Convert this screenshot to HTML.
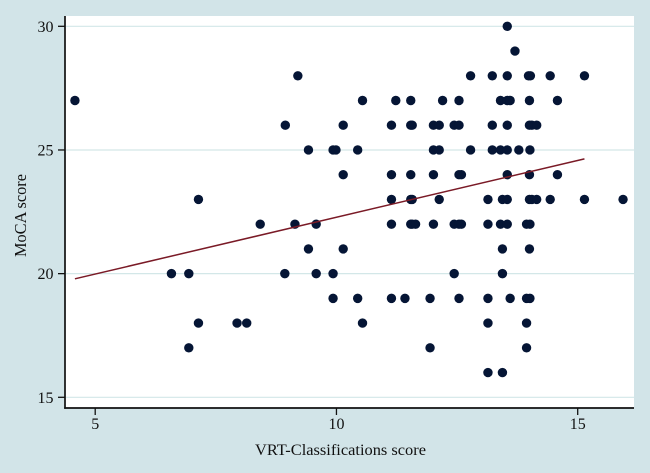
<!DOCTYPE html>
<html>
<head>
<meta charset="utf-8">
<style>
html,body{margin:0;padding:0;width:650px;height:473px;overflow:hidden;background:#d2e4e8;}
svg{display:block;}
text{font-family:"Liberation Serif",serif;fill:#111;}
</style>
</head>
<body>
<svg id="chart" width="650" height="473" viewBox="0 0 650 473" xmlns="http://www.w3.org/2000/svg">
  <rect x="0" y="0" width="650" height="473" fill="#d2e4e8"/>
  <rect x="65" y="16" width="569" height="392" fill="#ffffff"/>
  <g id="grid"></g>
  <g id="points"></g>
  <g id="fit"></g>
  <g id="axes"></g>
  <text x="340.5" y="455" font-size="16" text-anchor="middle" textLength="171" lengthAdjust="spacingAndGlyphs">VRT-Classifications score</text>
  <text x="0" y="0" font-size="16.5" text-anchor="middle" transform="translate(26,215.5) rotate(-90)" textLength="83" lengthAdjust="spacingAndGlyphs">MoCA score</text>
</svg>
<script>
const xTicks = [5, 10, 15];
const yTicks = [15, 20, 25, 30];
const vrtScores = [
  13.54,
  13.7,
  9.2, 12.78, 13.23, 13.54, 13.98, 14.02, 14.43, 15.14,
  4.58, 10.54, 11.23, 11.54, 12.2, 12.54, 13.4, 13.54, 13.6, 14, 14.58,
  8.94, 10.14, 11.14, 11.54, 11.57, 12.01, 12.13, 12.44, 12.54, 13.23, 13.54, 14, 14.05, 14.15,
  9.42, 9.93, 9.99, 10.44, 12.01, 12.13, 12.78, 13.23, 13.4, 13.54, 13.78, 14.01,
  10.14, 11.14, 11.54, 12.01, 12.54, 12.59, 13.54, 14, 14.58,
  7.14, 11.14, 11.54, 11.57, 12.13, 13.14, 13.44, 13.54, 14, 14.05, 14.15, 14.43, 15.14, 15.94,
  8.42, 9.14, 9.58, 11.14, 11.54, 11.57, 11.64, 12.01, 12.44, 12.54, 12.59, 13.14, 13.4, 13.54, 13.94, 14.01,
  9.42, 10.14, 13.44, 14,
  6.58, 6.94, 8.93, 9.58, 9.93, 12.44, 13.44,
  9.93, 10.44, 11.14, 11.42, 11.94, 12.54, 13.14, 13.6, 13.94, 14.01,
  7.14, 7.94, 8.14, 10.54, 13.14, 13.94,
  6.94, 11.94, 13.94,
  13.14, 13.44
];
const mocaScores = [
  30,
  29,
  28, 28, 28, 28, 28, 28, 28, 28,
  27, 27, 27, 27, 27, 27, 27, 27, 27, 27, 27,
  26, 26, 26, 26, 26, 26, 26, 26, 26, 26, 26, 26, 26, 26,
  25, 25, 25, 25, 25, 25, 25, 25, 25, 25, 25, 25,
  24, 24, 24, 24, 24, 24, 24, 24, 24,
  23, 23, 23, 23, 23, 23, 23, 23, 23, 23, 23, 23, 23, 23,
  22, 22, 22, 22, 22, 22, 22, 22, 22, 22, 22, 22, 22, 22, 22, 22,
  21, 21, 21, 21,
  20, 20, 20, 20, 20, 20, 20,
  19, 19, 19, 19, 19, 19, 19, 19, 19, 19,
  18, 18, 18, 18, 18, 18,
  17, 17, 17,
  16, 16
];
const fitX = [4.58, 15.14];
const fitY = [19.79, 24.64];

const NS = 'http://www.w3.org/2000/svg';
function xScale(v) { return 95.2 + (v - 5) * 48.25; }
function yScale(v) { return 397.3 - (v - 15) * 24.733; }
function mk(tag, attrs, parent) {
  const el = document.createElementNS(NS, tag);
  for (const k in attrs) el.setAttribute(k, attrs[k]);
  parent.appendChild(el);
  return el;
}
const gridG = document.getElementById('grid');
const pointsG = document.getElementById('points');
const fitG = document.getElementById('fit');
const axesG = document.getElementById('axes');

yTicks.forEach(function (t) {
  const g = mk('line', {x1: 66, x2: 634, y1: yScale(t), y2: yScale(t), stroke: '#d3e7e8', 'stroke-width': 1.2}, gridG);
  
  
});

vrtScores.forEach(function (v, i) {
  const c = mk('circle', {cx: xScale(v), cy: yScale(mocaScores[i]), r: 4.7, fill: '#051535'}, pointsG);
  
  
});

const fitLine = mk('line', {x1: xScale(fitX[0]), y1: yScale(fitY[0]), x2: xScale(fitX[1]), y2: yScale(fitY[1]), stroke: '#7a1a26', 'stroke-width': 1.5}, fitG);



const yAxis = mk('line', {x1: 65, x2: 65, y1: 16, y2: 408.8, stroke: '#111', 'stroke-width': 1.7}, axesG);


const xAxis = mk('line', {x1: 64.2, x2: 634, y1: 408, y2: 408, stroke: '#111', 'stroke-width': 1.7}, axesG);



xTicks.forEach(function (t) {
  const tick = mk('line', {x1: xScale(t), x2: xScale(t), y1: 408, y2: 415, stroke: '#111', 'stroke-width': 1.3}, axesG);
  
  
  const lab = mk('text', {x: xScale(t), y: 429, 'font-size': 16, 'text-anchor': 'middle'}, axesG);
  
  
  lab.textContent = t;
});
yTicks.forEach(function (t) {
  const tick = mk('line', {x1: 58, x2: 65, y1: yScale(t), y2: yScale(t), stroke: '#111', 'stroke-width': 1.3}, axesG);
  
  
  const lab = mk('text', {x: 53.5, y: yScale(t) + 5.5, 'font-size': 16, 'text-anchor': 'end'}, axesG);
  
  
  lab.textContent = t;
});
</script>
</body>
</html>
